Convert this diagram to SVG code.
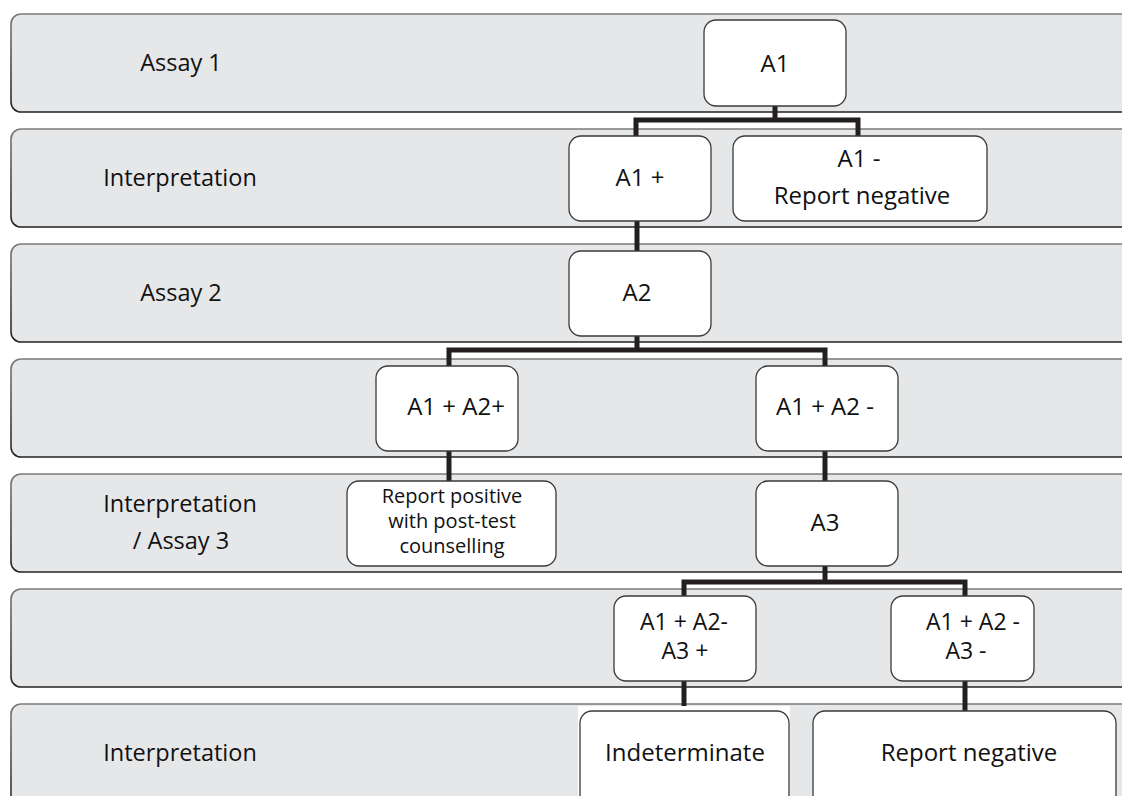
<svg xmlns="http://www.w3.org/2000/svg" width="1122" height="796" viewBox="0 0 1122 796">
<defs>
<linearGradient id="bandStroke" x1="0" y1="0" x2="0" y2="1">
<stop offset="0" stop-color="#7a7a7a"/>
<stop offset="1" stop-color="#222222"/>
</linearGradient>
<style>
.band{fill:#e6e7e9;stroke:url(#bandStroke);stroke-width:1.6}
.node{fill:#ffffff;stroke:#3a3a3a;stroke-width:1.3}
.lbl{font-family:"Open Sans","Noto Sans",sans-serif;font-size:23.5px;fill:#111;text-anchor:middle}
.t{font-family:"Open Sans","Noto Sans",sans-serif;font-size:24px;fill:#111;text-anchor:middle}
.t2{font-family:"Open Sans","Noto Sans",sans-serif;font-size:23px;fill:#111;text-anchor:middle}
.ts{font-family:"Open Sans","Noto Sans",sans-serif;font-size:20px;fill:#111;text-anchor:middle}
.conn{fill:none;stroke:#231f20;stroke-width:5;stroke-linejoin:miter;stroke-linecap:butt}
</style>
</defs>
<rect width="1122" height="796" fill="#ffffff"/>
<g id="lanes">
<g id="lane1"><rect class="band" x="11" y="14" width="1125" height="98" rx="10"/><text class="lbl" x="181" y="71">Assay 1</text></g>
<g id="lane2"><rect class="band" x="11" y="129" width="1125" height="98" rx="10"/><text class="lbl" x="180" y="186">Interpretation</text></g>
<g id="lane3"><rect class="band" x="11" y="244" width="1125" height="98" rx="10"/><text class="lbl" x="181" y="301">Assay 2</text></g>
<g id="lane4"><rect class="band" x="11" y="359" width="1125" height="98" rx="10"/></g>
<g id="lane5"><rect class="band" x="11" y="474" width="1125" height="98" rx="10"/><text class="lbl" x="180" y="512">Interpretation</text><text class="lbl" x="181" y="549">/ Assay 3</text></g>
<g id="lane6"><rect class="band" x="11" y="589" width="1125" height="98" rx="10"/></g>
<g id="lane7"><rect class="band" x="11" y="704" width="1125" height="110" rx="10"/><text class="lbl" x="180" y="761">Interpretation</text></g>
</g>
<g id="connectors">
<path class="conn" d="M775,106 V120 M636,136 V120 H858 V136"/>
<path class="conn" d="M637,221 V251"/>
<path class="conn" d="M637,336 V350 M449,366 V350 H825 V366"/>
<path class="conn" d="M449,451 V481"/>
<path class="conn" d="M825,451 V481"/>
<path class="conn" d="M825,566 V582 M684,596 V582 H965 V596"/>
<path class="conn" d="M684,681 V711"/>
<path class="conn" d="M965,681 V711"/>
</g>
<g id="n-a1"><rect class="node" x="704" y="20" width="142" height="86" rx="12"/><text class="t" x="775" y="72">A1</text></g>
<g id="n-a1pos"><rect class="node" x="569" y="136" width="142" height="85" rx="12"/><text class="t" x="640" y="186">A1 +</text></g>
<g id="n-a1neg"><rect class="node" x="733" y="136" width="254" height="85" rx="12"/><text class="t" x="859" y="167">A1 -</text><text class="t" x="862" y="204">Report negative</text></g>
<g id="n-a2"><rect class="node" x="569" y="251" width="142" height="85" rx="12"/><text class="t" x="637" y="301">A2</text></g>
<g id="n-a1a2pos"><rect class="node" x="376" y="366" width="142" height="85" rx="12"/><text class="t" x="456" y="415">A1 + A2+</text></g>
<g id="n-a1a2neg"><rect class="node" x="756" y="366" width="142" height="85" rx="12"/><text class="t" x="825" y="415">A1 + A2 -</text></g>
<g id="n-reportpos"><rect class="node" x="347" y="481" width="209" height="85" rx="12"/><text class="ts" x="452" y="503">Report positive</text><text class="ts" x="452" y="528">with post-test</text><text class="ts" x="452" y="553">counselling</text></g>
<g id="n-a3"><rect class="node" x="756" y="481" width="142" height="85" rx="12"/><text class="t" x="825" y="531">A3</text></g>
<g id="n-a3pos"><rect class="node" x="614" y="596" width="142" height="85" rx="12"/><text class="t2" x="684" y="630">A1 + A2-</text><text class="t2" x="685" y="659">A3 +</text></g>
<g id="n-a3neg"><rect class="node" x="891" y="596" width="143" height="85" rx="12"/><text class="t2" x="973" y="630">A1 + A2 -</text><text class="t2" x="966" y="659">A3 -</text></g>
<g id="n-indeterminate"><rect x="578" y="706" width="212" height="95" fill="#ffffff"/><rect class="node" x="580" y="711" width="209" height="95" rx="12"/><text class="t" x="685" y="761">Indeterminate</text></g>
<g id="n-reportneg"><rect class="node" x="813" y="711" width="303" height="95" rx="12"/><text class="t" x="969" y="761">Report negative</text></g>
</svg>
